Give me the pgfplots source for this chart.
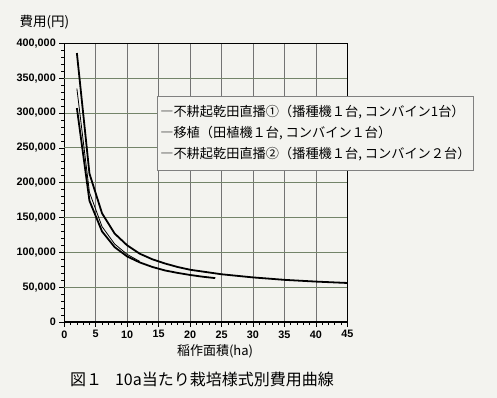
\documentclass[border=0pt]{standalone}
\usepackage{pgfplots}
\pgfplotsset{compat=1.18}
\usepackage{fontspec}
\setmainfont{Liberation Sans}
\newfontfamily\cjk{Noto Sans CJK JP}
\definecolor{bg}{RGB}{243,243,239}
\definecolor{gridv}{RGB}{115,115,115}
\definecolor{gridg}{RGB}{115,132,105}
\definecolor{gridp}{RGB}{145,95,145}
\begin{document}
\begin{tikzpicture}[x=1pt,y=1pt]
\useasboundingbox (0,0) rectangle (497,398);
\fill[bg] (0,0) rectangle (497,398);
\begin{axis}[
  at={(64.3pt,76pt)}, anchor=south west,
  scale only axis, width=283pt, height=278.7pt,
  xmin=0, xmax=45, ymin=0, ymax=400000,
  xtick={0,5,...,45},
  xticklabels={0,5,10,15,20,25,30,35,40,45},
  ytick={0,100000,200000,300000,400000},
  yticklabels={0,{100,000},{200,000},{300,000},{400,000}},
  extra y ticks={50000,150000,250000,350000},
  extra y tick labels={{50,000},{150,000},{250,000},{350,000}},
  extra y tick style={grid=major, major grid style={draw=gridp, line width=0.7pt}},
  minor x tick num=4, minor y tick num=9,
  grid=major,
  x grid style={draw=gridv, line width=0.7pt},
  y grid style={draw=gridg, line width=0.7pt},
  tick align=outside, xtick pos=bottom, ytick pos=left,
  major tick length=5pt, minor tick length=3pt,
  axis line style={line width=1.1pt},
  scaled y ticks=false,
  tick label style={font=\bfseries\fontsize{10.8}{12}\selectfont},
  every tick/.style={black, line width=0.6pt},
  clip=false,
]
% ② upper
\addplot[black, line width=1.8pt] coordinates {
(2,386000) (4,213000) (6,156000) (8,127000) (10,110000) (12,98000) (14,90000)
(16,84000) (18,79000) (20,75000) (25,68500) (30,64000) (35,60500) (40,58000) (45,56000)};
% ① lower
\addplot[black, line width=1.8pt] coordinates {
(2,307000) (4,174000) (6,130000) (8,107500) (10,94000) (12,85500) (14,79000)
(16,74000) (18,70500) (20,67500) (22,65000) (24,63000)};
% 移植
\addplot[black, line width=0.8pt] coordinates {
(2,335000) (4,186000) (6,137000) (8,112000) (10,97000) (12,87000)};
\end{axis}
\node[anchor=west, font=\cjk\fontsize{13.5}{15}\selectfont] at (16,376) {費用(円)};
\node[anchor=center, font=\cjk\fontsize{13}{15}\selectfont] at (215,47) {稲作面積(ha)};
\node[anchor=west, font=\cjk\fontsize{16}{18}\selectfont, inner sep=0pt] at (70,19) {図１\hspace{0.8em}10a当たり栽培様式別費用曲線};
\node[anchor=north west, draw=gray, fill=bg, line width=0.6pt, inner xsep=3pt, inner ysep=7pt,
  minimum width=316pt, minimum height=74pt, align=left,
  font=\cjk\fontsize{13.2}{21}\selectfont] at (157,302)
  {―不耕起乾田直播①（播種機１台, コンバイン1台）\\
   ―移植（田植機１台, コンバイン１台）\\
   ―不耕起乾田直播②（播種機１台, コンバイン２台）};
\end{tikzpicture}
\end{document}
